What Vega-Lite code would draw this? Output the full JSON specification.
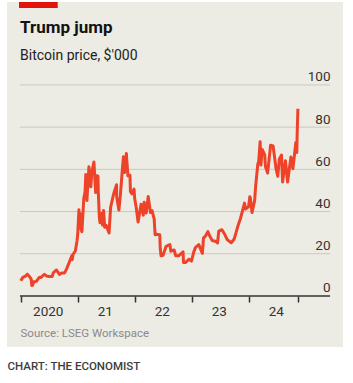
{
  "$schema": "https://vega.github.io/schema/vega-lite/v6.json",
  "width": 336,
  "height": 345,
  "autosize": {"type": "none"},
  "padding": {"left": 7, "top": 2, "right": 10, "bottom": 36},
  "background": "white",
  "config": {"view": {"fill": "#ecebe4", "stroke": null}, "font": "Roboto"},
  "title": {
    "text": "Trump jump",
    "subtitle": "Bitcoin price, $'000",
    "anchor": "start",
    "frame": "group",
    "dx": 13,
    "offset": -62,
    "fontSize": 17,
    "fontWeight": "bold",
    "color": "#121212",
    "subtitleFontSize": 14,
    "subtitleColor": "#222222",
    "subtitlePadding": 12
  },
  "layer": [
    {
      "data": {"values": [{"k": 1}]},
      "mark": {"type": "rect", "color": "#e3120b"},
      "encoding": {
        "x": {"datum": {"year": 2019, "month": 12, "date": 21, "utc": true}, "type": "temporal"},
        "x2": {"datum": {"year": 2020, "month": 8, "date": 25, "utc": true}},
        "y": {"datum": 139.3, "type": "quantitative"},
        "y2": {"datum": 136.4}
      }
    },
    {
      "data": {"values": [{"price": 0}, {"price": 20}, {"price": 40}, {"price": 60}, {"price": 80}, {"price": 100}]},
      "mark": {"type": "rule"},
      "encoding": {
        "x": {"datum": {"year": 2019, "month": 12, "date": 27, "utc": true}, "type": "temporal"},
        "x2": {"datum": {"year": 2025, "month": 6, "date": 5, "utc": true}},
        "y": {"field": "price", "type": "quantitative"},
        "color": {"condition": {"test": "datum.price == 0", "value": "#333333"}, "value": "#c9c9c2"},
        "strokeWidth": {"condition": {"test": "datum.price == 0", "value": 1.5}, "value": 1}
      }
    },
    {
      "data": {"values": [
        {"date": "2020-01-01", "price": 7.2},
        {"date": "2020-01-15", "price": 8.8},
        {"date": "2020-02-01", "price": 9.4},
        {"date": "2020-02-12", "price": 10.3},
        {"date": "2020-02-25", "price": 9.3},
        {"date": "2020-03-08", "price": 8.0},
        {"date": "2020-03-12", "price": 4.9},
        {"date": "2020-03-16", "price": 5.0},
        {"date": "2020-03-25", "price": 6.7},
        {"date": "2020-04-10", "price": 6.9},
        {"date": "2020-04-29", "price": 8.8},
        {"date": "2020-05-10", "price": 8.7},
        {"date": "2020-05-20", "price": 9.5},
        {"date": "2020-06-01", "price": 10.2},
        {"date": "2020-06-15", "price": 9.4},
        {"date": "2020-07-01", "price": 9.2},
        {"date": "2020-07-20", "price": 9.2},
        {"date": "2020-07-28", "price": 11.0},
        {"date": "2020-08-10", "price": 11.9},
        {"date": "2020-08-17", "price": 12.3},
        {"date": "2020-09-05", "price": 10.2},
        {"date": "2020-09-20", "price": 10.9},
        {"date": "2020-10-08", "price": 10.9},
        {"date": "2020-10-21", "price": 12.8},
        {"date": "2020-11-05", "price": 15.6},
        {"date": "2020-11-24", "price": 19.1},
        {"date": "2020-11-26", "price": 17.2},
        {"date": "2020-12-01", "price": 19.7},
        {"date": "2020-12-16", "price": 21.3},
        {"date": "2020-12-27", "price": 26.3},
        {"date": "2020-12-31", "price": 29.0},
        {"date": "2021-01-08", "price": 40.8},
        {"date": "2021-01-11", "price": 35.6},
        {"date": "2021-01-14", "price": 39.2},
        {"date": "2021-01-22", "price": 31.5},
        {"date": "2021-01-27", "price": 30.4},
        {"date": "2021-02-08", "price": 46.2},
        {"date": "2021-02-16", "price": 49.2},
        {"date": "2021-02-21", "price": 57.5},
        {"date": "2021-02-28", "price": 45.2},
        {"date": "2021-03-13", "price": 61.2},
        {"date": "2021-03-25", "price": 51.7},
        {"date": "2021-04-01", "price": 59.0},
        {"date": "2021-04-14", "price": 63.5},
        {"date": "2021-04-25", "price": 49.0},
        {"date": "2021-05-03", "price": 57.0},
        {"date": "2021-05-10", "price": 56.7},
        {"date": "2021-05-12", "price": 49.2},
        {"date": "2021-05-19", "price": 37.0},
        {"date": "2021-05-23", "price": 34.7},
        {"date": "2021-06-03", "price": 39.2},
        {"date": "2021-06-08", "price": 33.6},
        {"date": "2021-06-15", "price": 40.5},
        {"date": "2021-06-22", "price": 32.5},
        {"date": "2021-07-01", "price": 33.5},
        {"date": "2021-07-20", "price": 29.8},
        {"date": "2021-07-30", "price": 42.0},
        {"date": "2021-08-14", "price": 47.0},
        {"date": "2021-08-22", "price": 49.3},
        {"date": "2021-09-06", "price": 52.7},
        {"date": "2021-09-07", "price": 46.9},
        {"date": "2021-09-21", "price": 40.7},
        {"date": "2021-10-01", "price": 48.2},
        {"date": "2021-10-15", "price": 61.6},
        {"date": "2021-10-20", "price": 66.0},
        {"date": "2021-10-27", "price": 58.5},
        {"date": "2021-11-08", "price": 67.5},
        {"date": "2021-11-10", "price": 65.0},
        {"date": "2021-11-18", "price": 56.9},
        {"date": "2021-12-01", "price": 57.2},
        {"date": "2021-12-04", "price": 49.4},
        {"date": "2021-12-14", "price": 48.4},
        {"date": "2021-12-27", "price": 50.6},
        {"date": "2021-12-31", "price": 46.3},
        {"date": "2022-01-10", "price": 41.9},
        {"date": "2022-01-22", "price": 35.0},
        {"date": "2022-02-10", "price": 43.5},
        {"date": "2022-02-24", "price": 38.3},
        {"date": "2022-03-02", "price": 44.4},
        {"date": "2022-03-15", "price": 39.3},
        {"date": "2022-03-28", "price": 47.1},
        {"date": "2022-04-11", "price": 39.5},
        {"date": "2022-04-21", "price": 40.5},
        {"date": "2022-05-05", "price": 36.5},
        {"date": "2022-05-11", "price": 29.0},
        {"date": "2022-05-20", "price": 29.2},
        {"date": "2022-06-10", "price": 29.0},
        {"date": "2022-06-13", "price": 22.5},
        {"date": "2022-06-18", "price": 19.0},
        {"date": "2022-07-01", "price": 19.3},
        {"date": "2022-07-20", "price": 23.4},
        {"date": "2022-07-29", "price": 23.8},
        {"date": "2022-08-14", "price": 24.3},
        {"date": "2022-08-20", "price": 21.2},
        {"date": "2022-09-10", "price": 21.8},
        {"date": "2022-09-20", "price": 19.0},
        {"date": "2022-10-10", "price": 19.1},
        {"date": "2022-10-25", "price": 20.1},
        {"date": "2022-11-06", "price": 20.9},
        {"date": "2022-11-09", "price": 15.9},
        {"date": "2022-11-21", "price": 15.8},
        {"date": "2022-12-15", "price": 17.4},
        {"date": "2022-12-30", "price": 16.5},
        {"date": "2023-01-14", "price": 20.9},
        {"date": "2023-01-25", "price": 23.0},
        {"date": "2023-02-15", "price": 24.3},
        {"date": "2023-03-10", "price": 20.2},
        {"date": "2023-03-17", "price": 27.4},
        {"date": "2023-03-31", "price": 28.5},
        {"date": "2023-04-14", "price": 30.5},
        {"date": "2023-04-26", "price": 28.4},
        {"date": "2023-05-12", "price": 26.3},
        {"date": "2023-06-05", "price": 25.8},
        {"date": "2023-06-15", "price": 25.1},
        {"date": "2023-06-23", "price": 30.7},
        {"date": "2023-07-13", "price": 31.4},
        {"date": "2023-07-31", "price": 29.2},
        {"date": "2023-08-17", "price": 26.6},
        {"date": "2023-09-11", "price": 25.2},
        {"date": "2023-09-30", "price": 27.0},
        {"date": "2023-10-23", "price": 33.0},
        {"date": "2023-11-09", "price": 36.7},
        {"date": "2023-12-05", "price": 44.0},
        {"date": "2023-12-11", "price": 41.2},
        {"date": "2023-12-31", "price": 42.3},
        {"date": "2024-01-08", "price": 47.0},
        {"date": "2024-01-11", "price": 46.6},
        {"date": "2024-01-22", "price": 39.5},
        {"date": "2024-02-08", "price": 45.3},
        {"date": "2024-02-14", "price": 51.8},
        {"date": "2024-02-28", "price": 62.4},
        {"date": "2024-03-05", "price": 63.8},
        {"date": "2024-03-14", "price": 73.1},
        {"date": "2024-03-19", "price": 62.0},
        {"date": "2024-03-27", "price": 69.4},
        {"date": "2024-04-12", "price": 67.0},
        {"date": "2024-04-17", "price": 61.3},
        {"date": "2024-05-01", "price": 58.2},
        {"date": "2024-05-20", "price": 71.4},
        {"date": "2024-06-05", "price": 71.1},
        {"date": "2024-06-24", "price": 60.3},
        {"date": "2024-07-05", "price": 56.7},
        {"date": "2024-07-15", "price": 64.8},
        {"date": "2024-07-29", "price": 66.8},
        {"date": "2024-08-05", "price": 54.0},
        {"date": "2024-08-23", "price": 64.1},
        {"date": "2024-09-06", "price": 54.0},
        {"date": "2024-09-27", "price": 65.8},
        {"date": "2024-10-10", "price": 60.3},
        {"date": "2024-10-29", "price": 72.7},
        {"date": "2024-11-04", "price": 68.0},
        {"date": "2024-11-06", "price": 75.8},
        {"date": "2024-11-11", "price": 88.7}
      ]},
      "mark": {"type": "line", "color": "#ee4229", "strokeWidth": 3, "strokeJoin": "round"},
      "encoding": {
        "x": {
          "field": "date",
          "type": "temporal",
          "scale": {"domain": [{"year": 2019, "month": 10, "date": 5, "utc": true}, {"year": 2025, "month": 8, "date": 27, "utc": true}]},
          "axis": {
            "offset": -51,
            "values": [
              {"year": 2020, "month": 1, "date": 1, "utc": true},
              {"year": 2021, "month": 1, "date": 1, "utc": true},
              {"year": 2022, "month": 1, "date": 1, "utc": true},
              {"year": 2023, "month": 1, "date": 1, "utc": true},
              {"year": 2024, "month": 1, "date": 1, "utc": true},
              {"year": 2024, "month": 11, "date": 11, "utc": true}
            ],
            "domain": false,
            "grid": false,
            "tickSize": 6,
            "tickColor": "#333333",
            "tickWidth": 1.5,
            "labelExpr": "utcmonth(datum.value) != 0 ? '' : (utcyear(datum.value) == 2020 ? '2020' : utcFormat(datum.value, '%y'))",
            "labelOffset": 27,
            "labelPadding": 2,
            "labelFlush": false,
            "labelOverlap": false,
            "labelFontSize": 13.5,
            "labelColor": "#333333",
            "title": "Source: LSEG Workspace",
            "titleAnchor": "start",
            "titleAlign": "left",
            "titleBaseline": "alphabetic",
            "titleX": 13,
            "titleY": 40,
            "titleFontSize": 11.5,
            "titleFontWeight": "normal",
            "titleColor": "#8a8a8a"
          }
        },
        "y": {
          "field": "price",
          "type": "quantitative",
          "scale": {"domain": [-24.2, 139.3], "nice": false, "zero": false},
          "axis": {
            "orient": "right",
            "offset": -13,
            "values": [0, 20, 40, 60, 80, 100],
            "grid": false,
            "domain": false,
            "ticks": false,
            "labelAlign": "right",
            "labelBaseline": "alphabetic",
            "labelPadding": 0,
            "labelOffset": -4,
            "labelFontSize": 13.5,
            "labelColor": "#333333",
            "title": "CHART: THE ECONOMIST",
            "titleAngle": 0,
            "titleAlign": "left",
            "titleBaseline": "alphabetic",
            "titleX": -323,
            "titleY": 367,
            "titleFontSize": 11.5,
            "titleFontWeight": 500,
            "titleColor": "#3d3d3d"
          }
        }
      }
    }
  ]
}
